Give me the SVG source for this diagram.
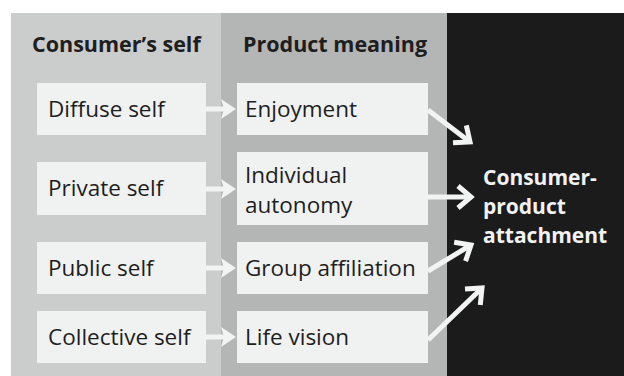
<svg xmlns="http://www.w3.org/2000/svg" width="624" height="376" viewBox="0 0 624 376">
  <defs>
    <style>
      .hdr { font-family: "Open Sans", "Noto Sans", sans-serif; font-weight: bold; font-size: 21.5px; fill: #1e1e1e; }
      .lbl { font-family: "Open Sans", "Noto Sans", sans-serif; font-size: 22.5px; fill: #1e1e1e; }
      .out { font-family: "Open Sans", "Noto Sans", sans-serif; font-weight: bold; font-size: 21px; fill: #f2f2f2; }
      .box { fill: #f0f1f1; }
      .link { stroke: #f2f3f3; stroke-width: 5; fill: none; }
      .big { stroke: #f2f3f3; stroke-width: 5; fill: none; marker-end: url(#chev); }
    </style>
    <marker id="chev" markerUnits="userSpaceOnUse" viewBox="-20 -14 24 28" markerWidth="24" markerHeight="28" refX="0" refY="0" orient="auto">
      <path d="M-13,-11 L0,0 L-13,11" fill="none" stroke="#f2f3f3" stroke-width="5" stroke-linejoin="miter"/>
    </marker>
    <path id="smallHead" d="M0,-10 L15,0 L0,10 L3,0 Z" fill="#f2f3f3"/>
  </defs>

  <rect x="0" y="0" width="624" height="376" fill="#ffffff"/>

  <!-- column panels -->
  <rect x="11" y="13" width="211" height="363" fill="#cbcccc"/>
  <rect x="221" y="13" width="226" height="363" fill="#b4b5b5"/>
  <rect x="447" y="13" width="177" height="363" fill="#1b1b1b"/>

  <text class="hdr" x="32" y="52">Consumer’s self</text>
  <text class="hdr" x="243" y="52">Product meaning</text>

  <!-- connectors -->
  <g id="connectors">
    <line class="link" x1="206" y1="109" x2="226" y2="109"/>
    <use href="#smallHead" x="221" y="109"/>
    <line class="link" x1="206" y1="189" x2="226" y2="189"/>
    <use href="#smallHead" x="221" y="189"/>
    <line class="link" x1="206" y1="268" x2="226" y2="268"/>
    <use href="#smallHead" x="221" y="268"/>
    <line class="link" x1="206" y1="337" x2="226" y2="337"/>
    <use href="#smallHead" x="221" y="337"/>

    <line class="big" x1="428" y1="110" x2="470" y2="142"/>
    <line class="big" x1="428" y1="197" x2="471" y2="197"/>
    <line class="big" x1="428" y1="271" x2="471" y2="245"/>
    <line class="big" x1="428" y1="340" x2="482" y2="288"/>
  </g>

  <!-- left column -->
  <g id="diffuse-self">
    <rect class="box" x="37" y="83" width="169" height="52"/>
    <text class="lbl" x="48" y="117">Diffuse self</text>
  </g>
  <g id="private-self">
    <rect class="box" x="37" y="162" width="169" height="53"/>
    <text class="lbl" x="48" y="196">Private self</text>
  </g>
  <g id="public-self">
    <rect class="box" x="37" y="242" width="169" height="52"/>
    <text class="lbl" x="48" y="276">Public self</text>
  </g>
  <g id="collective-self">
    <rect class="box" x="37" y="311" width="169" height="52"/>
    <text class="lbl" x="48" y="345">Collective self</text>
  </g>

  <!-- middle column -->
  <g id="enjoyment">
    <rect class="box" x="237" y="83" width="191" height="52"/>
    <text class="lbl" x="245" y="117">Enjoyment</text>
  </g>
  <g id="individual-autonomy">
    <rect class="box" x="237" y="152" width="191" height="73"/>
    <text class="lbl" x="245" y="183">Individual</text>
    <text class="lbl" x="245" y="213">autonomy</text>
  </g>
  <g id="group-affiliation">
    <rect class="box" x="237" y="242" width="191" height="52"/>
    <text class="lbl" x="245" y="276">Group affiliation</text>
  </g>
  <g id="life-vision">
    <rect class="box" x="237" y="311" width="191" height="52"/>
    <text class="lbl" x="245" y="345">Life vision</text>
  </g>

  <!-- outcome -->
  <g id="attachment">
    <text class="out" x="483" y="185">Consumer-</text>
    <text class="out" x="483" y="214">product</text>
    <text class="out" x="483" y="243">attachment</text>
  </g>
</svg>
